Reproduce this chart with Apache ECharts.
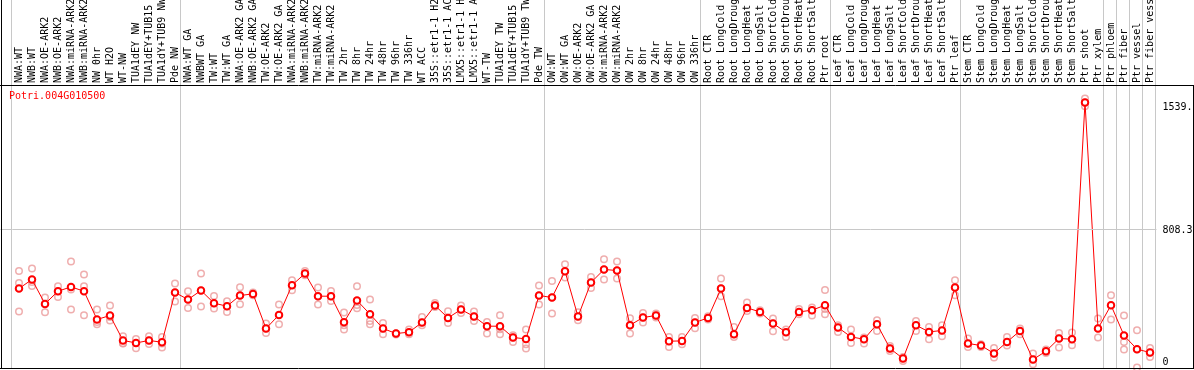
<!DOCTYPE html>
<html>
<head>
<meta charset="utf-8">
<script src="https://cdn.jsdelivr.net/npm/echarts@6/dist/echarts.min.js"></script>
<style>
    html, body { margin: 0; padding: 0; background: #fff; }
    #chart { width: 1194px; height: 370px; }
</style>
</head>
<body>
<div id="chart"></div>
<script>
// Gène affiché
const geneId = 'Potri.004G010500';

// Échantillons (axe du haut)
const samples = [
    'NWA:WT', 'NWB:WT', 'NWA:OE-ARK2', 'NWB:OE-ARK2', 'NWA:miRNA-ARK2', 'NWB:miRNA-ARK2',
    'NW 0hr', 'WT H2O', 'WT-NW', 'TUA1dEY NW', 'TUA1dEY+TUB15 NW', 'TUA1dY+TUB9 NW', 'Pde NW',
    'NWA:WT GA', 'NWBWT GA', 'TW:WT', 'TW:WT GA', 'NWA:OE-ARK2 GA', 'NWB:OE-ARK2 GA',
    'TW:OE-ARK2', 'TW:OE-ARK2 GA', 'NWA:miRNA-ARK2 GA', 'NWB:miRNA-ARK2 GA', 'TW:miRNA-ARK2',
    'TW:miRNA-ARK2 GA', 'TW 2hr', 'TW 8hr', 'TW 24hr', 'TW 48hr', 'TW 96hr', 'TW 336hr', 'WT ACC',
    '35S::etr1-1 H2O', '35S::etr1-1 ACC', 'LMX5::etr1-1 H2O', 'LMX5::etr1-1 ACC', 'WT-TW',
    'TUA1dEY TW', 'TUA1dEY+TUB15 TW', 'TUA1dY+TUB9 TW', 'Pde TW',
    'OW:WT', 'OW:WT GA', 'OW:OE-ARK2', 'OW:OE-ARK2 GA', 'OW:miRNA-ARK2', 'OW:miRNA-ARK2 GA',
    'OW 2hr', 'OW 8hr', 'OW 24hr', 'OW 48hr', 'OW 96hr', 'OW 336hr',
    'Root CTR', 'Root LongCold', 'Root LongDrought', 'Root LongHeat', 'Root LongSalt',
    'Root ShortCold', 'Root ShortDrought', 'Root ShortHeat', 'Root ShortSalt', 'Ptr root',
    'Leaf CTR', 'Leaf LongCold', 'Leaf LongDrought', 'Leaf LongHeat', 'Leaf LongSalt',
    'Leaf ShortCold', 'Leaf ShortDrought', 'Leaf ShortHeat', 'Leaf ShortSalt', 'Ptr leaf',
    'Stem CTR', 'Stem LongCold', 'Stem LongDrought', 'Stem LongHeat', 'Stem LongSalt',
    'Stem ShortCold', 'Stem ShortDrought', 'Stem ShortHeat', 'Stem ShortSalt', 'Ptr shoot',
    'Ptr xylem', 'Ptr phloem', 'Ptr fiber', 'Ptr vessel', 'Ptr fiber vessel'
];

// Moyenne par échantillon
const means = [
    464.8, 516.7, 375.9, 449.2, 474.0, 449.2, 285.8, 308.9, 164.5, 150.7, 164.5, 154.7, 441.7,
    401.3, 453.2, 379.9, 362.6, 424.4, 433.6, 233.8, 312.3, 483.8, 551.4, 420.3, 420.3, 270.2,
    395.5, 316.4, 233.8, 205.0, 212.5, 268.5, 366.6, 295.0, 343.5, 303.1, 247.1, 247.1, 181.9,
    173.8, 424.4,
    412.8, 564.6, 303.1, 499.4, 574.5, 568.7, 252.9, 297.3, 308.9, 160.5, 162.2, 268.5,
    295.0, 464.8, 200.9, 352.8, 329.7, 262.7, 212.5, 329.7, 339.5, 368.4,
    239.6, 185.3, 172.0, 258.7, 118.4, 60.6, 252.9, 214.2, 222.3, 470.5,
    147.2, 135.7, 89.5, 156.5, 220.0, 54.8, 102.8, 176.1, 172.0, 1539.3,
    233.8, 368.4, 193.4, 114.3, 95.3
];

// Réplicats (3 par échantillon)
const replicates = [
    [566.4, 497.1, 332.0], [580.2, 502.9, 479.8], [412.8, 375.9, 327.9], [478.0, 449.2, 416.3],
    [620.6, 459.0, 343.5], [545.6, 478.0, 310.6], [343.5, 271.9, 258.7], [366.6, 300.0, 280.0],
    [189.4, 149.0, 147.2], [173.8, 150.7, 120.1], [189.4, 164.5, 144.9], [185.3, 147.2, 124.1],
    [493.6, 441.7, 389.7],
    [449.2, 401.3, 352.8], [551.4, 453.2, 360.8], [422.0, 379.9, 349.3], [391.4, 362.6, 329.7],
    [472.3, 424.4, 374.1], [441.7, 433.6, 426.1], [262.7, 233.8, 208.4], [372.4, 312.3, 258.7],
    [512.7, 483.8, 455.0], [566.4, 551.4, 541.6], [470.5, 420.3, 372.4], [450.9, 420.3, 393.2],
    [326.2, 252.9, 228.0], [478.0, 370.1, 351.0], [401.3, 277.7, 258.7], [266.2, 233.8, 200.9],
    [205.0, 205.0, 199.2], [228.0, 212.5, 200.9], [300.8, 268.5, 252.9], [381.6, 366.6, 358.5],
    [333.7, 295.0, 266.2], [366.6, 343.5, 323.9], [332.0, 303.1, 277.7], [271.9, 247.1, 205.0],
    [310.6, 230.0, 201.0], [195.1, 181.9, 156.5], [228.0, 143.2, 118.4], [482.1, 424.4, 372.4],
    [508.6, 412.8, 320.4], [605.0, 564.6, 528.3], [327.9, 303.1, 281.7], [531.7, 499.4, 468.2],
    [633.9, 574.5, 516.7], [620.6, 568.7, 522.5], [293.3, 252.9, 205.0], [323.9, 297.3, 268.5],
    [320.4, 308.9, 297.3], [185.3, 160.5, 127.6], [185.3, 162.2, 143.2], [295.0, 268.5, 235.6],
    [304.8, 295.0, 285.8], [522.5, 464.8, 420.3], [243.1, 200.9, 185.3], [383.9, 352.8, 335.4],
    [339.5, 329.7, 320.4], [291.6, 262.7, 218.2], [228.0, 212.5, 185.3], [347.0, 329.7, 316.4],
    [355.1, 339.5, 308.9], [456.7, 347.0, 316.4],
    [252.9, 239.6, 214.2], [228.0, 185.3, 150.7], [181.9, 172.0, 147.2], [281.7, 258.7, 220.0],
    [133.4, 118.4, 104.5], [69.9, 60.6, 46.8], [277.7, 252.9, 220.0], [243.1, 214.2, 172.0],
    [252.9, 222.3, 189.4], [512.7, 470.5, 426.1],
    [176.1, 147.2, 127.6], [143.2, 135.7, 127.6], [121.8, 89.5, 66.4], [185.3, 156.5, 135.7],
    [233.8, 220.0, 200.9], [89.5, 54.8, 27.7], [112.6, 102.8, 93.0], [208.4, 176.1, 124.1],
    [210.7, 172.0, 137.4], [1561.7, 1539.0, 1517.3],
    [291.6, 233.8, 181.9], [426.1, 368.4, 285.8], [308.9, 156.5, 112.6], [224.0, 114.3, 8.7],
    [121.8, 95.3, 69.9]
];

// Dernier échantillon de chaque groupe (séparateurs verticaux)
const groupEnds = [-1, 12, 40, 52, 62, 72, 83, 84, 85, 86, 87];

// Échelle verticale
const yMax = 1616.6;
const yStep = 808.3;

const MONO = 'DejaVu Sans Mono';
const GRID_GREY = '#c8c8c8';

const peak = Math.max(...means);
const replicatePoints = replicates.flatMap((reps, i) => reps.map(v => [i, v]));

/**
 * Trace un séparateur de groupe sur toute la hauteur
 */
function renderSeparator(params, api) {
    const x = Math.round(api.coord([api.value(0) + 0.5, 0])[0]) - 1.5;
    const yBottom = api.coord([0, 0])[1];
    return {
        type: 'line',
        shape: { x1: x, y1: 0, x2: x, y2: yBottom },
        style: { stroke: GRID_GREY, lineWidth: 1 }
    };
}

function yLabel(value) {
    if (value === 0) return '{z|0}';
    if (value === yStep) return '{m|' + value + '}';
    return '{p|' + value + '}';
}

const dom = document.getElementById('chart');
const myChart = echarts.init(dom, null, { renderer: 'canvas' });

myChart.setOption({
    animation: false,
    backgroundColor: '#fff',
    title: {
        text: geneId,
        left: 9,
        top: 91,
        padding: 0,
        textStyle: { color: '#ff0000', fontFamily: MONO, fontSize: 10, fontWeight: 'normal' }
    },
    grid: {
        left: 12.5, right: 37.5, top: 89, bottom: 1,
        containLabel: false,
        outerBoundsMode: 'none'
    },
    xAxis: [
        {
            type: 'category',
            data: samples,
            position: 'top',
            offset: 4,
            boundaryGap: true,
            axisLine: { show: false },
            axisTick: { show: false },
            splitLine: { show: false },
            axisLabel: {
                interval: 0,
                rotate: 90,
                margin: 2,
                hideOverlap: false,
                color: '#000',
                fontFamily: MONO,
                fontSize: 10
            }
        },
        {
            type: 'value',
            min: -0.5,
            max: samples.length - 0.5,
            show: false
        }
    ],
    yAxis: [
        {
            type: 'value',
            position: 'right',
            min: 0,
            max: yMax,
            interval: yStep,
            axisLine: { show: false },
            splitLine: { show: false },
            axisTick: {
                show: true,
                customValues: [yStep],
                length: 6,
                lineStyle: { color: GRID_GREY }
            },
            axisLabel: {
                customValues: [0, yStep, peak],
                margin: 6,
                color: '#000',
                fontFamily: MONO,
                fontSize: 10,
                formatter: yLabel,
                rich: {
                    z: { fontFamily: MONO, fontSize: 10, color: '#000', padding: [0, 0, 14, 0] },
                    m: { fontFamily: MONO, fontSize: 10, color: '#000', padding: [3, 0, 0, 0] },
                    p: { fontFamily: MONO, fontSize: 10, color: '#000', padding: [11, 0, 0, 0] }
                }
            }
        },
        {
            type: 'value',
            position: 'left',
            min: 0,
            max: yMax,
            interval: yStep,
            axisLine: { show: false },
            splitLine: { show: false },
            axisLabel: { show: false },
            axisTick: {
                show: true,
                customValues: [yStep],
                length: 12,
                lineStyle: { color: GRID_GREY }
            }
        }
    ],
    series: [
        {
            type: 'custom',
            xAxisIndex: 1,
            yAxisIndex: 0,
            silent: true,
            z: 1,
            renderItem: renderSeparator,
            data: groupEnds.map(k => [k, 0])
        },
        {
            type: 'scatter',
            xAxisIndex: 0,
            yAxisIndex: 0,
            symbol: 'circle',
            symbolSize: 6.5,
            z: 2,
            itemStyle: { color: 'rgba(0,0,0,0)', borderColor: '#eb9a9a', borderWidth: 1.5 },
            data: replicatePoints
        },
        {
            type: 'line',
            xAxisIndex: 0,
            yAxisIndex: 0,
            symbol: 'emptyCircle',
            symbolSize: 6.5,
            z: 3,
            lineStyle: { color: '#ff0000', width: 1 },
            itemStyle: { color: '#ff0000', borderWidth: 1.5 },
            markLine: {
                silent: true,
                symbol: 'none',
                label: { show: false },
                lineStyle: { color: GRID_GREY, type: 'solid', width: 1 },
                data: [{ yAxis: yStep }]
            },
            data: means
        }
    ],
    graphic: [
        // cadre noir
        { type: 'line', z: 100, shape: { x1: 1.5, y1: 0, x2: 1.5, y2: 369 }, style: { stroke: '#000', lineWidth: 1 } },
        { type: 'line', z: 100, shape: { x1: 0, y1: 85.5, x2: 1194, y2: 85.5 }, style: { stroke: '#000', lineWidth: 1 } },
        { type: 'line', z: 100, shape: { x1: 1193.5, y1: 85, x2: 1193.5, y2: 369 }, style: { stroke: '#000', lineWidth: 1 } },
        { type: 'line', z: 100, shape: { x1: 0, y1: 368.5, x2: 1194, y2: 368.5 }, style: { stroke: '#000', lineWidth: 1 } }
    ]
});
</script>
</body>
</html>
